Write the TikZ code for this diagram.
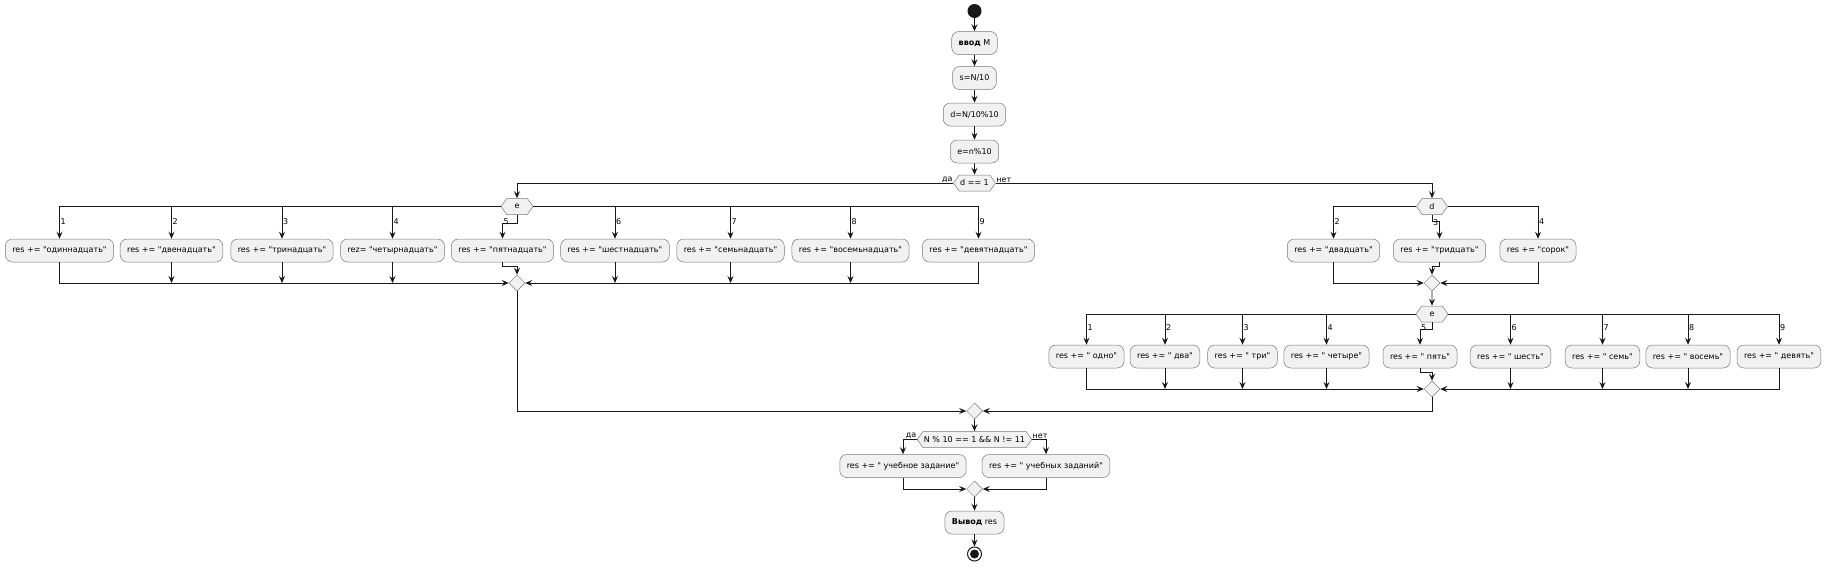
\documentclass[tikz,border=0pt]{standalone}
\usepackage{fontspec}
\setmainfont{DejaVu Sans}
\usepackage{tikz}
\usetikzlibrary{calc, arrows.meta, shapes.geometric, shapes.symbols, positioning}
\definecolor{boxfill}{RGB}{241, 241, 241}
\definecolor{linec}{RGB}{24, 24, 24}
\definecolor{bordc}{RGB}{120, 120, 120}
\newcommand{\dfont}{\fontsize{8}{9.6}\selectfont}
\newcommand{\dq}{\textquotedbl}
\tikzset{
    actnode/.style = {draw=bordc, fill=boxfill, rectangle, rounded corners=7pt, line width=0.5pt,
      minimum height=23pt, inner xsep=7pt, inner ysep=0pt, font=\dfont},
    ifnode/.style = {draw=bordc, fill=boxfill, shape=signal, signal to=east and west,
      signal pointer angle=110, minimum height=16pt, inner xsep=1pt, inner ysep=0pt,
      line width=0.5pt, font=\dfont},
    mergenode/.style = {draw=bordc, fill=boxfill, diamond, minimum size=16pt, inner sep=0pt, line width=0.5pt},
    startnode/.style = {circle, fill=linec, minimum size=14pt, inner sep=0pt},
    stopnode/.style = {circle, draw=linec, line width=1pt, fill=white, minimum size=14pt, inner sep=0pt,
      path picture={\fill[linec] (path picture bounding box.center) circle (4.5pt);}},
    labnode/.style = {draw=none, fill=none, inner sep=0.5pt, font=\dfont},
    connect/.style = {draw=linec, line width=0.9pt, -{Stealth[length=7pt, width=6pt, inset=2.5pt]}}
}

\begin{document}
\begin{tikzpicture}[x=1pt, y=-1pt]
    \useasboundingbox (0,0) rectangle (1837,574);

    % main column
    \node [name = start, startnode] at (974.5, 11) {};
    \node [name = inp, actnode] at (974.5, 43) {\textbf{ввод} M};
    \node [name = sbox, actnode] at (974.5, 78) {s=N/10};
    \node [name = dbox, actnode] at (974.5, 114.5) {d=N/10\%10};
    \node [name = ebox, actnode] at (974.5, 151.5) {e=n\%10};
    \node [name = ifone, ifnode] at (974.5, 183) {d == 1};
    \node [labnode, anchor=south east] at (ifone.west) {да};
    \node [labnode, anchor=south west] at (ifone.east) {нет};

    \draw [connect] (start) -- (inp);
    \draw [connect] (inp) -- (sbox);
    \draw [connect] (sbox) -- (dbox);
    \draw [connect] (dbox) -- (ebox);
    \draw [connect] (ebox) -- (ifone);

    % d == 1 : switch on e
    \node [name = ea, ifnode, minimum width=32pt] at (517, 206.5) {e};
    \node [name = ea1, actnode] at (59.5, 250.5) {res += \dq одиннадцать\dq};
    \node [name = ea2, actnode] at (171.5, 250.5) {res += \dq двенадцать\dq};
    \node [name = ea3, actnode] at (282, 250.5) {res += \dq тринадцать\dq};
    \node [name = ea4, actnode] at (392.5, 250.5) {rez= \dq четырнадцать\dq};
    \node [name = ea5, actnode] at (502.5, 250.5) {res += \dq пятнадцать\dq};
    \node [name = ea6, actnode] at (615, 250.5) {res += \dq шестнадцать\dq};
    \node [name = ea7, actnode] at (730.5, 250.5) {res += \dq семьнадцать\dq};
    \node [name = ea8, actnode] at (850.5, 250.5) {res += \dq восемьнадцать\dq};
    \node [name = ea9, actnode] at (978.5, 250.5) {res += \dq девятнадцать\dq};
    \node [name = ma, mergenode] at (517, 283) {};

    \draw [connect] (ifone.west) -| (ea);
    \draw [connect] (ea.west) -| (ea1);
    \draw [connect] (ea.east) -| (ea9);
    \draw [connect] (ea2 |- ea.west) -- (ea2);
    \draw [connect] (ea3 |- ea.west) -- (ea3);
    \draw [connect] (ea4 |- ea.west) -- (ea4);
    \draw [connect] (ea.south) -- ++(0,9) -| (ea5);
    \draw [connect] (ea6 |- ea.east) -- (ea6);
    \draw [connect] (ea7 |- ea.east) -- (ea7);
    \draw [connect] (ea8 |- ea.east) -- (ea8);
    \node [labnode, anchor=west] at ($(ea1.north)+(0.5,-17)$) {1};
    \node [labnode, anchor=west] at ($(ea2.north)+(0.5,-17)$) {2};
    \node [labnode, anchor=west] at ($(ea3.north)+(0.5,-17)$) {3};
    \node [labnode, anchor=west] at ($(ea4.north)+(0.5,-17)$) {4};
    \node [labnode, anchor=west] at ($(ea5.north)+(0.5,-17)$) {5};
    \node [labnode, anchor=west] at ($(ea6.north)+(0.5,-17)$) {6};
    \node [labnode, anchor=west] at ($(ea7.north)+(0.5,-17)$) {7};
    \node [labnode, anchor=west] at ($(ea8.north)+(0.5,-17)$) {8};
    \node [labnode, anchor=west] at ($(ea9.north)+(0.5,-17)$) {9};

    \draw [connect] (ea1) |- (ma);
    \draw [connect] (ea9) |- (ma);
    \draw [connect] (ea2) -- (ea2 |- ma);
    \draw [connect] (ea3) -- (ea3 |- ma);
    \draw [connect] (ea4) -- (ea4 |- ma);
    \draw [connect] (ea5.south) -- ++(0,4) -| (ma);
    \draw [connect] (ea6) -- (ea6 |- ma);
    \draw [connect] (ea7) -- (ea7 |- ma);
    \draw [connect] (ea8) -- (ea8 |- ma);

    % d != 1 : switch on d
    \node [name = sd, ifnode, minimum width=31pt] at (1432, 206.5) {d};
    \node [name = sd2, actnode] at (1333.5, 250.5) {res += \dq двадцать\dq};
    \node [name = sd3, actnode] at (1439.5, 250.5) {res += \dq тридцать\dq};
    \node [name = sd4, actnode] at (1538, 250.5) {res += \dq сорок\dq};
    \node [name = md, mergenode] at (1432, 283) {};

    \draw [connect] (ifone.east) -| (sd);
    \draw [connect] (sd.west) -| (sd2);
    \draw [connect] (sd.east) -| (sd4);
    \draw [connect] (sd.south) -- ++(0,7) -| (sd3);
    \node [labnode, anchor=west] at ($(sd2.north)+(0.5,-17)$) {2};
    \node [labnode, anchor=west] at ($(sd.south)+(0.5,8)$) {3};
    \node [labnode, anchor=west] at ($(sd4.north)+(0.5,-17)$) {4};
    \draw [connect] (sd2) |- (md);
    \draw [connect] (sd4) |- (md);
    \draw [connect] (sd3.south) -- ++(0,4) -| (md);

    % then switch on e
    \node [name = eb, ifnode, minimum width=32pt] at (1432, 314) {e};
    \node [name = eb1, actnode] at (1086.5, 356.5) {res += \dq{} одно\dq};
    \node [name = eb2, actnode] at (1165, 356.5) {res += \dq{} два\dq};
    \node [name = eb3, actnode] at (1242.5, 356.5) {res += \dq{} три\dq};
    \node [name = eb4, actnode] at (1326.5, 356.5) {res += \dq{} четыре\dq};
    \node [name = eb5, actnode] at (1420, 356.5) {res += \dq{} пять\dq};
    \node [name = eb6, actnode] at (1510.5, 356.5) {res += \dq{} шесть\dq};
    \node [name = eb7, actnode] at (1602.5, 356.5) {res += \dq{} семь\dq};
    \node [name = eb8, actnode] at (1688, 356.5) {res += \dq{} восемь\dq};
    \node [name = eb9, actnode] at (1779, 356.5) {res += \dq{} девять\dq};
    \node [name = mb, mergenode] at (1432, 389) {};

    \draw [connect] (md) -- (eb);
    \draw [connect] (eb.west) -| (eb1);
    \draw [connect] (eb.east) -| (eb9);
    \draw [connect] (eb2 |- eb.west) -- (eb2);
    \draw [connect] (eb3 |- eb.west) -- (eb3);
    \draw [connect] (eb4 |- eb.west) -- (eb4);
    \draw [connect] (eb.south) -- ++(0,7) -| (eb5);
    \draw [connect] (eb6 |- eb.east) -- (eb6);
    \draw [connect] (eb7 |- eb.east) -- (eb7);
    \draw [connect] (eb8 |- eb.east) -- (eb8);
    \node [labnode, anchor=west] at ($(eb1.north)+(0.5,-17)$) {1};
    \node [labnode, anchor=west] at ($(eb2.north)+(0.5,-17)$) {2};
    \node [labnode, anchor=west] at ($(eb3.north)+(0.5,-17)$) {3};
    \node [labnode, anchor=west] at ($(eb4.north)+(0.5,-17)$) {4};
    \node [labnode, anchor=west] at ($(eb5.north)+(0.5,-17)$) {5};
    \node [labnode, anchor=west] at ($(eb6.north)+(0.5,-17)$) {6};
    \node [labnode, anchor=west] at ($(eb7.north)+(0.5,-17)$) {7};
    \node [labnode, anchor=west] at ($(eb8.north)+(0.5,-17)$) {8};
    \node [labnode, anchor=west] at ($(eb9.north)+(0.5,-17)$) {9};

    \draw [connect] (eb1) |- (mb);
    \draw [connect] (eb9) |- (mb);
    \draw [connect] (eb2) -- (eb2 |- mb);
    \draw [connect] (eb3) -- (eb3 |- mb);
    \draw [connect] (eb4) -- (eb4 |- mb);
    \draw [connect] (eb5.south) -- ++(0,4) -| (mb);
    \draw [connect] (eb6) -- (eb6 |- mb);
    \draw [connect] (eb7) -- (eb7 |- mb);
    \draw [connect] (eb8) -- (eb8 |- mb);

    % join and ending
    \node [name = mo, mergenode] at (974.5, 411) {};
    \draw [connect] (ma) |- (mo);
    \draw [connect] (mb) |- (mo);

    \node [name = iftwo, ifnode] at (974.5, 439.5) {N \% 10 == 1 \&\& N != 11};
    \node [labnode, anchor=south east] at (iftwo.west) {да};
    \node [labnode, anchor=south west] at (iftwo.east) {нет};
    \node [name = ya, actnode] at (903, 466) {res += \dq{} учебное задание\dq};
    \node [name = yb, actnode] at (1046, 466) {res += \dq{} учебных заданий\dq};
    \node [name = mt, mergenode] at (974.5, 489) {};
    \node [name = outb, actnode] at (974.5, 522.5) {\textbf{Вывод} res};
    \node [name = stop, stopnode] at (974.5, 554) {};

    \draw [connect] (mo) -- (iftwo);
    \draw [connect] (iftwo.west) -| (ya);
    \draw [connect] (iftwo.east) -| (yb);
    \draw [connect] (ya) |- (mt);
    \draw [connect] (yb) |- (mt);
    \draw [connect] (mt) -- (outb);
    \draw [connect] (outb) -- (stop);
\end{tikzpicture}
\end{document}
